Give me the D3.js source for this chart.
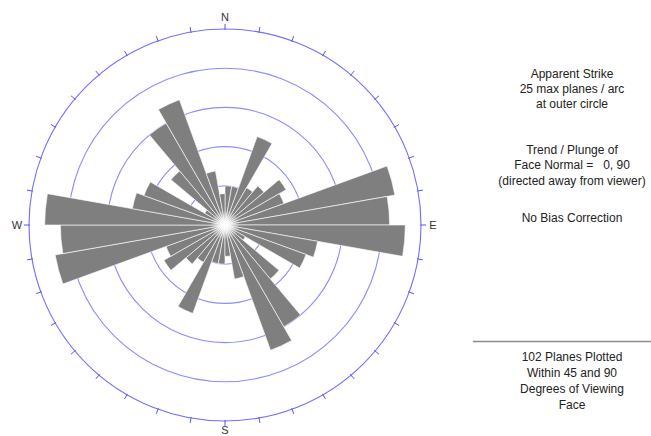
<!DOCTYPE html>
<html>
<head>
<meta charset="utf-8">
<script src="https://cdn.jsdelivr.net/npm/d3@7"></script>
<style>
  html, body { margin: 0; padding: 0; background: #fff; }
  svg { display: block; }
  text { font-family: "Liberation Sans", Arial, sans-serif; }
</style>
</head>
<body>
<svg id="chart" width="651" height="436"></svg>
<script>
// ---- data ----
// 10-degree apparent-strike bins (start azimuth, degrees clockwise from N); drawn bidirectionally
const binStarts = [0, 10, 20, 30, 40, 50, 60, 70, 80, 90, 100, 110, 120, 130, 140, 150, 160, 170];
const planeCounts = [5, 5, 12, 5.5, 6.5, 9, 8, 22, 21, 23, 12, 11, 3, 9, 15, 17, 7, 4];
const binWidth = 10;
const maxPlanes = 25;
const ringValues = [5, 10, 15, 20, 25];
const tickAngles = d3.range(0, 360, 10);
const compassLabels = ["N", "E", "S", "W"];
const compassAngles = [0, 90, 180, 270];
const infoTop = ["Apparent Strike", "25 max planes / arc", "at outer circle"];
const infoMid = ["Trend / Plunge of", "Face Normal =   0, 90", "(directed away from viewer)"];
const infoBias = ["No Bias Correction"];
const infoBottom = ["102 Planes Plotted", "Within 45 and 90", "Degrees of Viewing", "Face"];

// ---- layout ----
const svg = d3.select("#chart");
const cx = 225, cy = 225, R = 196;
const rScale = d3.scaleLinear().domain([0, maxPlanes]).range([0, R]);
const g = svg.append("g").attr("transform", `translate(${cx},${cy})`);

// rings
g.selectAll("circle.ring").data(ringValues).join("circle")
  .attr("class", "ring")
  .attr("r", d => rScale(d))
  .attr("fill", "none")
  .attr("stroke", d => d === maxPlanes ? "#6f6fff" : "#8c8cff")
  .attr("stroke-width", 1.1);

// ticks on outer circle
const rad = a => a * Math.PI / 180;
g.selectAll("line.tick").data(tickAngles).join("line")
  .attr("class", "tick")
  .attr("x1", a => Math.sin(rad(a)) * (R - 1))
  .attr("y1", a => -Math.cos(rad(a)) * (R - 1))
  .attr("x2", a => Math.sin(rad(a)) * (R + 5))
  .attr("y2", a => -Math.cos(rad(a)) * (R + 5))
  .attr("stroke", "#5555ff")
  .attr("stroke-width", 1);

// petals (bidirectional)
const petals = [];
binStarts.forEach((s, i) => {
  petals.push({ start: s, value: planeCounts[i] });
  petals.push({ start: s + 180, value: planeCounts[i] });
});
const arc = d3.arc()
  .innerRadius(0)
  .outerRadius(d => rScale(d.value))
  .startAngle(d => rad(d.start))
  .endAngle(d => rad(d.start + binWidth));
g.selectAll("path.petal").data(petals).join("path")
  .attr("class", "petal")
  .attr("d", arc)
  .attr("fill", "#7f7f7f")
  .attr("stroke", "#ffffff")
  .attr("stroke-width", 0.6);

// center glow
const defs = svg.append("defs");
const grad = defs.append("radialGradient").attr("id", "glow");
grad.append("stop").attr("offset", "0%").attr("stop-color", "#fff").attr("stop-opacity", 1);
grad.append("stop").attr("offset", "35%").attr("stop-color", "#fff").attr("stop-opacity", 0.75);
grad.append("stop").attr("offset", "100%").attr("stop-color", "#fff").attr("stop-opacity", 0);
g.append("circle").attr("r", 15).attr("fill", "url(#glow)");

// compass labels
const labelOffsets = [12, 12, 9, 12];
g.selectAll("text.compass").data(compassLabels).join("text")
  .attr("class", "compass")
  .attr("x", (d, i) => Math.sin(rad(compassAngles[i])) * (R + labelOffsets[i]))
  .attr("y", (d, i) => -Math.cos(rad(compassAngles[i])) * (R + labelOffsets[i]))
  .attr("text-anchor", "middle")
  .attr("dominant-baseline", "central")
  .attr("font-size", 11)
  .attr("fill", "#333")
  .text(d => d);

// info text
const tx = 572;
function block(lines, y0, step) {
  svg.append("g").selectAll("text").data(lines).join("text")
    .attr("x", tx)
    .attr("y", (d, i) => y0 + i * step)
    .attr("text-anchor", "middle")
    .attr("dominant-baseline", "central")
    .attr("font-size", 12)
    .attr("fill", "#222")
    .attr("xml:space", "preserve")
    .style("white-space", "pre")
    .text(d => d);
}
block(infoTop, 73.5, 15);
block(infoMid, 149.5, 15.5);
block(infoBias, 217.5, 15);
svg.append("line")
  .attr("x1", 473).attr("x2", 651).attr("y1", 341.5).attr("y2", 341.5)
  .attr("stroke", "#8a8a8a").attr("stroke-width", 1.5);
block(infoBottom, 356.5, 16);
</script>
</body>
</html>
